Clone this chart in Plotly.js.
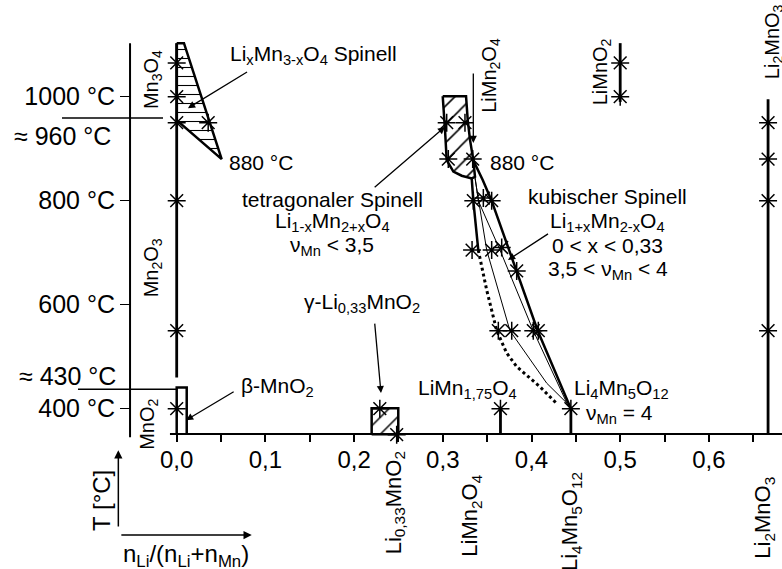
<!DOCTYPE html>
<html>
<head>
<meta charset="utf-8">
<script src="https://cdn.plot.ly/plotly-3.0.1.min.js"></script>
<style>
  html, body { margin: 0; padding: 0; background: #fff; }
  #chart { width: 782px; height: 569px; }
</style>
</head>
<body>
<div id="chart"></div>
<script>
// Phase diagram Li–Mn–O: temperature against lithium fraction n_Li/(n_Li+n_Mn)

// ---- axis ticks ----
const fracTicks = [0, 0.1, 0.2, 0.3, 0.4, 0.5, 0.6];
const fracTickText = ['0,0', '0,1', '0,2', '0,3', '0,4', '0,5', '0,6'];
const fracMinorTicks = [0.05, 0.15, 0.25, 0.35, 0.45, 0.55, 0.65];
const tempTicks = [400, 600, 800, 1000];
const tempTickText = ['400 °C', '600 °C', '800 °C', '1000 °C'];

// ---- manganese oxides at x = 0 ----
const mnOxideX = [0, 0];
const mnOxideT = [460, 1103];
const mnOxideStarT = [1065, 1000, 950, 800, 550, 400];

// β-MnO2 field
const betaX = [0, 0, 0.0113, 0.0113];
const betaT = [351, 441, 441, 351];

// LixMn3-xO4 spinel field (hatched)
const spinelX = [0, 0.0082, 0.0507, 0, 0];
const spinelT = [1103, 1103, 880, 955, 1103];
const spinelStarX = [0.0355];
const spinelStarT = [950];

// γ-Li0,33MnO2 field (hatched)
const gammaX = [0.2198, 0.2198, 0.2498, 0.2498, 0.2198];
const gammaT = [351, 401, 401, 351, 351];
const gammaStarX = [0.229, 0.248];
const gammaStarT = [400, 350];

// tetragonal spinel Li1-xMn2+xO4 (hatched)
const tetraX = [0.2999, 0.3262, 0.3281, 0.3307, 0.3344, 0.3363, 0.3326, 0.3213, 0.3119, 0.3044, 0.3025, 0.2999];
const tetraT = [1001, 1001, 955, 917, 878, 846, 843, 848, 856, 878, 936, 1001];
const tetraStarX = [0.3044, 0.3250, 0.3062, 0.3337];
const tetraStarT = [950, 950, 880, 880];

// cubic spinel Li1+xMn2-xO4 boundaries
const cubicOuterX = [0.3337, 0.345, 0.355, 0.383, 0.407, 0.4444];
const cubicOuterT = [880, 840, 800, 665, 550, 400];
const cubicMidX = [0.3363, 0.340, 0.3645, 0.402, 0.442];
const cubicMidT = [846, 800, 705, 550, 403];
const cubicInnerX = [0.3363, 0.3495, 0.3757, 0.4172, 0.4397];
const cubicInnerT = [843, 705, 550, 449, 411];
const cubicSolidX = [0.3326, 0.3344, 0.3400];
const cubicSolidT = [843, 800, 705];
const cubicDotX = [0.3400, 0.3495, 0.3608, 0.3720, 0.3833, 0.3964, 0.4096, 0.4284];
const cubicDotT = [705, 628, 550, 507, 481, 462, 442, 410];
const cubicStarX = [0.3344, 0.3457, 0.3551, 0.333, 0.3551, 0.3664, 0.3833, 0.3626, 0.3777, 0.402, 0.4077];
const cubicStarT = [800, 805, 800, 705, 705, 710, 665, 550, 550, 550, 550];

// line compounds
const lm175X = [0.365, 0.365];
const lm175T = [351, 400];
const li4X = [0.4444, 0.4444];
const li4T = [351, 400];
const limno2X = [0.5, 0.5];
const limno2T = [990, 1103];
const limno2StarT = [1065, 1000];
const li2X = [0.6667, 0.6667];
const li2T = [351, 995];
const li2StarT = [950, 880, 800, 550];

// ---- helpers ----
const INK = '#000';
const FONT = 'Liberation Sans, Arial, sans-serif';

function line(x, y, w, dash) {
  return { x, y, type: 'scatter', mode: 'lines', hoverinfo: 'skip',
    line: { color: INK, width: w, dash: dash || 'solid' } };
}
function hatched(x, y, shape, size) {
  return { x, y, type: 'scatter', mode: 'lines', fill: 'toself', hoverinfo: 'skip',
    fillcolor: 'rgba(0,0,0,0)',
    fillpattern: { shape, size, solidity: 0.12, fgcolor: INK, bgcolor: 'rgba(0,0,0,0)' },
    line: { color: INK, width: 2.5 } };
}
function stars(x, y) {
  return { x, y, type: 'scatter', mode: 'markers', hoverinfo: 'skip',
    marker: { symbol: 'asterisk-open', size: 15, color: INK, line: { color: INK, width: 1.5 } } };
}
const rep = (v, n) => Array(n).fill(v);

const traces = [
  // axis lines
  line([-0.0526, -0.0526], [345, 1103], 2),
  line([-0.0076, 0.6824], [351.3, 351.3], 2),
  // reference temperature lines
  line([-0.1293, -0.0154], [959, 959], 1.5),
  line([-0.1113, 0], [437.3, 437.3], 1.5),
  // fields and phase boundaries
  line(mnOxideX, mnOxideT, 2.8),
  line(betaX, betaT, 2.5),
  hatched(spinelX, spinelT, '-', 9),
  hatched(gammaX, gammaT, '/', 12),
  hatched(tetraX, tetraT, '/', 13),
  line(cubicOuterX, cubicOuterT, 2.5),
  line(cubicMidX, cubicMidT, 1),
  line(cubicInnerX, cubicInnerT, 1),
  line(cubicSolidX, cubicSolidT, 2.5),
  line(cubicDotX, cubicDotT, 3, 'dot'),
  line(lm175X, lm175T, 2.8),
  line(li4X, li4T, 2.8),
  line(limno2X, limno2T, 2.8),
  line(li2X, li2T, 2.8),
  // measured points
  stars(rep(0, mnOxideStarT.length), mnOxideStarT),
  stars(spinelStarX, spinelStarT),
  stars(gammaStarX, gammaStarT),
  stars(tetraStarX, tetraStarT),
  stars(cubicStarX, cubicStarT),
  stars([lm175X[0], li4X[0]], [lm175T[1], li4T[1]]),
  stars(rep(0.5, limno2StarT.length), limno2StarT),
  stars(rep(0.6667, li2StarT.length), li2StarT)
];

function lab(text, x, y, size, extra) {
  return Object.assign({ text, x, y, xref: 'x', yref: 'y', showarrow: false,
    font: { family: FONT, size, color: INK }, xanchor: 'center', yanchor: 'middle' }, extra || {});
}
function vlab(text, x, y, size, extra) {
  return lab(text, x, y, size, Object.assign({ textangle: -90 }, extra || {}));
}
function arrow(x, y, ax, ay, w) {
  return { x, y, ax, ay, xref: 'x', yref: 'y', axref: 'x', ayref: 'y', text: ' ',
    showarrow: true, arrowhead: 2, arrowsize: 1.1, arrowwidth: w || 1.3, arrowcolor: INK, standoff: 0 };
}

const annotations = [
  lab('Li<sub>x</sub>Mn<sub>3-x</sub>O<sub>4</sub> Spinell', 0.0581, 1080, 21, { xanchor: 'left' }),
  lab('880 °C', 0.0567, 874, 21, { xanchor: 'left' }),
  lab('≈ 960 °C', -0.0718, 924, 25, { xanchor: 'right' }),
  lab('≈ 430 °C', -0.0662, 463, 25, { xanchor: 'right' }),
  vlab('Mn<sub>3</sub>O<sub>4</sub>', -0.0278, 1032, 20),
  vlab('Mn<sub>2</sub>O<sub>3</sub>', -0.0278, 670, 20),
  vlab('MnO<sub>2</sub>', -0.0312, 369, 20),
  vlab('LiMn<sub>2</sub>O<sub>4</sub>', 0.3543, 1042, 20),
  vlab('LiMnO<sub>2</sub>', 0.4784, 1047, 20),
  vlab('Li<sub>2</sub>MnO<sub>3</sub>', 0.6723, 1105, 20),
  lab('tetragonaler Spinell', 0.1754, 802, 21),
  lab('Li<sub>1-x</sub>Mn<sub>2+x</sub>O<sub>4</sub>', 0.1754, 760, 21),
  lab('ν<sub>Mn</sub> &lt; 3,5', 0.1754, 712, 21),
  lab('kubischer Spinell', 0.486, 808, 21),
  lab('Li<sub>1+x</sub>Mn<sub>2-x</sub>O<sub>4</sub>', 0.486, 760, 21),
  lab('0 &lt; x &lt; 0,33', 0.486, 713, 21),
  lab('3,5 &lt; ν<sub>Mn</sub> &lt; 4', 0.486, 666, 21),
  lab('880 °C', 0.351, 874, 21, { xanchor: 'left' }),
  lab('γ-Li<sub>0,33</sub>MnO<sub>2</sub>', 0.2089, 603, 21),
  lab('β-MnO<sub>2</sub>', 0.1136, 442, 21),
  lab('LiMn<sub>1,75</sub>O<sub>4</sub>', 0.3278, 438, 21),
  lab('Li<sub>4</sub>Mn<sub>5</sub>O<sub>12</sub>', 0.502, 438, 21),
  lab('ν<sub>Mn</sub> = 4', 0.4987, 389, 21),
  vlab('Li<sub>0,33</sub>MnO<sub>2</sub>', 0.2462, 321, 22, { yanchor: 'top' }),
  vlab('LiMn<sub>2</sub>O<sub>4</sub>', 0.3318, 277, 22, { yanchor: 'top' }),
  vlab('Li<sub>4</sub>Mn<sub>5</sub>O<sub>12</sub>', 0.4445, 283, 22, { yanchor: 'top' }),
  vlab('Li<sub>2</sub>MnO<sub>3</sub>', 0.6621, 273, 22, { yanchor: 'top' }),
  vlab('T [°C]', -0.0846, 224, 24),
  lab('n<sub>Li</sub>/(n<sub>Li</sub>+n<sub>Mn</sub>)', 0.0105, 118, 24),
  // pointers
  arrow(0.0127, 978, 0.0827, 1051),
  arrow(0.3344, 911, 0.3344, 1061),
  arrow(0.3025, 942, 0.2198, 821),
  arrow(0.3735, 686, 0.422, 740),
  arrow(0.2303, 430, 0.2224, 580),
  arrow(0.0105, 378, 0.0676, 436),
  // axis key
  arrow(-0.0658, 320, -0.0658, 157, 1.5),
  arrow(0.0846, 157, -0.0658, 157, 1.5)
];

const layout = {
  width: 782, height: 569, autosize: false,
  margin: { l: 0, r: 0, t: 0, b: 0, pad: 0 },
  paper_bgcolor: '#fff', plot_bgcolor: '#fff',
  showlegend: false,
  font: { family: FONT, color: INK },
  xaxis: {
    range: [-0.19921, 0.68241], anchor: 'free', position: 0.2373,
    showline: false, showgrid: false, zeroline: false,
    ticks: 'outside', ticklen: 7, tickwidth: 2, tickcolor: INK,
    tickmode: 'array', tickvals: fracTicks, ticktext: fracTickText,
    ticklabelstandoff: -3,
    minor: { tickmode: 'array', tickvals: fracMinorTicks, ticks: 'outside', ticklen: 7, tickwidth: 2, tickcolor: INK, showgrid: false },
    tickfont: { family: FONT, size: 24, color: INK }
  },
  yaxis: {
    range: [91.73, 1185.96], anchor: 'free', position: 0.16624,
    showline: false, showgrid: false, zeroline: false,
    ticks: 'outside', ticklen: 10, tickwidth: 1.5, tickcolor: INK,
    tickmode: 'array', tickvals: tempTicks, ticktext: tempTickText,
    tickfont: { family: FONT, size: 25, color: INK }
  },
  annotations
};

Plotly.newPlot('chart', traces, layout, { staticPlot: true, displayModeBar: false });
</script>
</body>
</html>
